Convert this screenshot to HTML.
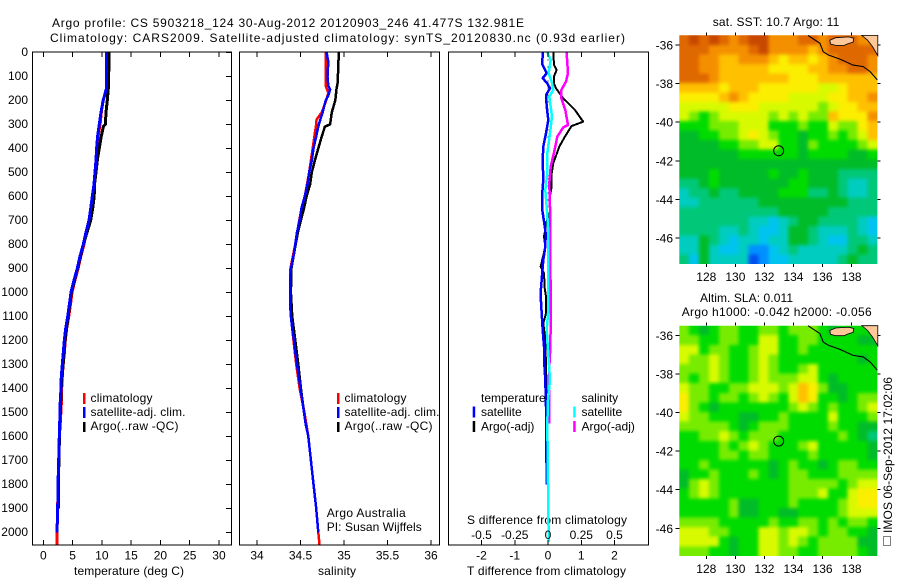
<!DOCTYPE html>
<html>
<head>
<meta charset="utf-8">
<title>Argo profile</title>
<style>
html,body{margin:0;padding:0;background:#fff;}
svg{display:block;}
text{font-family:"Liberation Sans",sans-serif;font-size:12px;fill:#000;}
</style>
</head>
<body>
<svg id="fig" width="900" height="580" viewBox="0 0 900 580" xmlns="http://www.w3.org/2000/svg">
<defs>
<filter id="map-smooth" filterUnits="userSpaceOnUse" x="640" y="0" width="260" height="580" color-interpolation-filters="sRGB">
<feGaussianBlur stdDeviation="1.8"/>
</filter>
<clipPath id="clip-sst-map"><rect x="679.3" y="35.3" width="198.1" height="228.7"/></clipPath>
<clipPath id="clip-sla-map"><rect x="679.3" y="325.7" width="198.1" height="230.3"/></clipPath>
</defs>
<rect x="0" y="0" width="900" height="580" fill="#fff"/>
<text x="52" y="27" font-size="13" textLength="472">Argo profile: CS 5903218_124 30-Aug-2012 20120903_246 41.477S 132.981E</text>
<text x="50" y="42" font-size="13" textLength="575">Climatology: CARS2009. Satellite-adjusted climatology: synTS_20120830.nc (0.93d earlier)</text>

<text x="74" y="575" textLength="110">temperature (deg C)</text>
<text x="318" y="575" textLength="38">salinity</text>
<text x="467" y="575" textLength="159">T difference from climatology</text>
<text x="467" y="524" textLength="160">S difference from climatology</text>

<g>
<rect x="83" y="393" width="2.5" height="11" fill="#f00"/>
<rect x="83" y="407" width="2.5" height="11" fill="#00f"/>
<rect x="83" y="422" width="2.5" height="10" fill="#000"/>
<text x="90.5" y="402" textLength="62">climatology</text>
<text x="90.5" y="416" textLength="95">satellite-adj. clim.</text>
<text x="90.5" y="430" textLength="88">Argo(..raw -QC)</text>
</g>
<g>
<rect x="337" y="393" width="2.5" height="11" fill="#f00"/>
<rect x="337" y="407" width="2.5" height="11" fill="#00f"/>
<rect x="337" y="422" width="2.5" height="10" fill="#000"/>
<text x="344.5" y="402" textLength="62">climatology</text>
<text x="344.5" y="416" textLength="95">satellite-adj. clim.</text>
<text x="344.5" y="430" textLength="88">Argo(..raw -QC)</text>
</g>
<text x="326.7" y="517" textLength="79">Argo Australia</text>
<text x="326.7" y="531" textLength="95">PI: Susan Wijffels</text>

<text x="712.7" y="26" textLength="126.6">sat. SST: 10.7  Argo: 11</text>
<text x="700" y="302" textLength="93">Altim. SLA: 0.011</text>
<text x="681.7" y="316" textLength="190">Argo h1000: -0.042 h2000: -0.056</text>
<text transform="translate(892,533) rotate(-90)" x="0" y="0" textLength="156">IMOS 06-Sep-2012 17:02:06</text>
<rect x="883.5" y="536.5" width="7" height="9" fill="none" stroke="#000" stroke-width="1" stroke-dasharray="1 1"/>

<g id="layer-plots"></g>
<g id="layer-maps"></g>
</svg>

<script>
/* ---------- Profile data ---------- */
const depthTicks = [0,100,200,300,400,500,600,700,800,900,1000,1100,1200,1300,1400,1500,1600,1700,1800,1900,2000];
const tempTicks = [0,5,10,15,20,25,30];
const salTicks = [34,34.5,35,35.5,36];
const diffTTicks = [-2,-1,0,1,2];
const diffSTicks = [-0.5,-0.25,0,0.25,0.5];

const tempClimDepth = [0,100,150,170,200,250,300,350,400,450,500,550,600,650,700,750,800,850,900,950,1000,1050,1100,1150,1200,1250,1300,1350,1400,1450,1500,1600,1700,1800,1900,2000,2055];
const tempClimValue = [10.8,10.8,10.8,10.6,10.2,9.9,9.7,9.35,9.2,9.05,8.9,8.7,8.5,8.15,7.85,7.35,6.95,6.4,5.95,5.4,4.9,4.65,4.35,4.0,3.75,3.6,3.4,3.25,3.15,3.1,3.0,2.75,2.65,2.55,2.45,2.35,2.35];
const tempSatDepth = [0,100,150,170,200,250,300,350,400,450,500,550,600,650,700,750,800,850,900,950,1000,1050,1100,1150,1200,1250,1300,1350,1400,1450,1500,1600,1700,1800,1900,2000];
const tempSatValue = [10.82,10.82,10.8,10.55,10.25,9.85,9.57,9.28,9.1,9.0,8.83,8.66,8.37,8.09,7.8,7.29,6.83,6.27,5.8,5.24,4.73,4.45,4.16,3.82,3.59,3.42,3.25,3.08,3.02,2.9,2.85,2.73,2.63,2.51,2.46,2.34];
const tempArgoDepth = [0,100,150,200,250,300,310,350,400,450,500,550,600,650,700,800,900,1000,1200,1400,1540,1700,1900];
const tempArgoValue = [11.22,11.17,11.1,10.93,10.7,10.6,10.25,9.9,9.56,9.22,9.0,8.75,8.7,8.43,8.1,6.85,5.85,4.8,3.7,3.05,2.85,2.65,2.6];

const salClimDepth = [0,140,150,170,200,250,280,300,350,400,450,500,600,700,800,900,1000,1100,1200,1300,1400,1500,1600,1700,1800,1900,2000,2055];
const salClimValue = [34.79,34.79,34.8,34.82,34.795,34.745,34.685,34.68,34.66,34.64,34.62,34.6,34.55,34.485,34.44,34.385,34.38,34.39,34.42,34.45,34.49,34.545,34.59,34.62,34.65,34.68,34.705,34.72];
const salSatDepth = [0,40,100,140,155,180,200,250,300,350,400,450,500,550,600,650,700,750,800,850,900,950,1000,1050,1100,1150,1200,1250,1300,1350,1400,1450,1500,1550,1600,1700,1800,1900,2000];
const salSatValue = [34.8,34.82,34.81,34.82,34.84,34.82,34.79,34.755,34.71,34.68,34.65,34.63,34.6,34.58,34.55,34.51,34.49,34.46,34.44,34.42,34.39,34.38,34.38,34.38,34.39,34.405,34.425,34.44,34.46,34.48,34.5,34.52,34.54,34.56,34.59,34.62,34.65,34.68,34.705];
const salArgoDepth = [0,100,130,150,200,250,300,310,350,400,450,500,550,600,650,700,750,800,900,1000,1100,1200,1300,1400,1500];
const salArgoValue = [34.94,34.93,34.925,34.915,34.9,34.86,34.84,34.78,34.745,34.705,34.665,34.63,34.61,34.57,34.54,34.505,34.47,34.445,34.395,34.39,34.405,34.44,34.475,34.505,34.54];

const diffTSatDepth = [0,50,87,108,130,150,178,226,282,337,393,449,532,600,657,705,754,810,865,983,1018,1088,1157,1226,1296,1365,1476,1800];
const diffTSatValue = [-0.16,-0.17,-0.04,-0.16,-0.02,0.06,-0.06,-0.04,0.01,-0.06,-0.14,-0.16,-0.14,-0.18,-0.17,-0.12,-0.07,-0.08,-0.14,-0.21,-0.22,-0.19,-0.16,-0.12,-0.11,-0.08,-0.06,-0.04];
const diffTArgoDepth = [0,53,74,100,130,150,192,240,289,307,351,393,462,504,560,615,657,705,768,810,893,921,983,1018,1088,1129,1185,1296,1421];
const diffTArgoValue = [0.16,0.18,0.26,0.18,0.18,0.24,0.46,0.81,1.06,0.71,0.51,0.34,0.16,0.11,0.11,0.04,0.08,-0.04,-0.12,-0.08,-0.22,-0.12,-0.1,-0.06,-0.06,-0.14,-0.09,-0.06,-0.04];
const diffSSatDepth = [0,32,87,128,157,185,268,337,421,504,574,643,727,865,983,1088,1157,1365,1449,1546,2040];
const diffSSatValue = [-0.005,0.02,0.005,0.03,0.04,0.01,0.03,0.015,-0.005,-0.005,-0.02,-0.01,0.0,0.0,0.0,0.0,-0.01,0.015,0.0,-0.005,0.005];
const diffSArgoDepth = [0,87,122,157,192,240,303,313,351,407,476,546,643,765,852,983,1018,1088,1226,1310,1546];
const diffSArgoValue = [0.14,0.15,0.135,0.1,0.1,0.13,0.15,0.115,0.07,0.05,0.02,0.01,0.015,0.015,0.015,0.02,0.02,0.02,0.018,0.01,0.008];

/* ---------- Map data: colour levels 0 (cold / low) to 13 (warm / high) ---------- */
const sstLevels = [
[12,13,12,13,12,11,12,13,13,11,11,11,12,12,11,12,12,12,11,11],
[12,12,12,11,11,11,11,12,13,11,11,11,11,10,11,12,12,12,12,12],
[12,12,11,11,10,10,11,11,11,10,9,10,10,9,10,11,12,12,12,11],
[12,12,11,11,10,10,10,10,10,9,9,9,9,10,10,11,11,12,12,11],
[12,12,12,11,10,10,10,10,10,10,10,9,9,9,10,10,10,10,10,10],
[10,10,10,10,9,10,10,10,9,9,9,9,9,9,8,8,9,10,10,10],
[9,9,9,9,10,11,10,9,9,9,9,8,8,8,8,9,9,10,10,11],
[8,8,8,8,8,9,9,9,8,8,8,8,8,8,7,8,9,9,10,10],
[8,7,6,7,8,8,8,8,8,7,8,7,8,7,7,10,9,9,9,11],
[6,6,6,7,7,7,8,8,8,6,6,6,7,6,6,8,7,7,9,10],
[5,5,6,6,7,7,8,9,8,7,6,6,5,6,6,7,6,7,8,10],
[5,5,5,5,6,6,7,7,8,8,6,6,5,7,6,6,6,6,7,8],
[5,5,5,5,5,5,6,6,6,6,6,6,5,6,6,6,6,5,5,6],
[5,5,5,5,5,5,5,5,5,5,5,5,5,5,5,5,5,5,5,5],
[5,5,5,6,5,5,5,5,5,6,5,5,6,5,5,5,4,4,4,4],
[4,4,5,6,5,5,5,5,5,5,5,6,6,5,5,5,4,3,3,4],
[3,4,4,5,4,4,5,5,5,5,6,6,6,4,4,5,4,3,3,4],
[3,3,4,4,4,4,4,4,5,5,5,5,5,5,5,5,5,4,4,4],
[4,4,4,4,4,4,4,4,4,4,5,5,5,5,5,4,4,4,4,4],
[4,4,4,4,4,4,4,3,3,2,3,4,5,5,4,4,4,4,3,2],
[4,4,4,4,3,3,4,3,2,2,3,5,5,4,3,3,3,4,3,2],
[3,3,5,4,3,2,3,3,2,3,3,5,5,4,3,2,2,4,4,3],
[3,3,5,3,2,2,3,1,1,2,3,4,3,3,3,3,3,4,5,4],
[4,2,5,3,3,3,3,0,1,2,2,3,3,3,3,3,4,5,4,4]
];
const slaLevels = [
[7,6,5,6,7,7,6,6,7,7,6,7,7,7,6,5,6,6,6,6],
[7,7,6,6,7,7,6,6,8,8,6,6,7,7,6,6,6,6,5,5],
[8,8,6,7,7,6,6,7,8,8,6,6,7,6,6,6,6,6,6,6],
[8,7,7,8,7,6,6,7,8,7,6,6,6,6,6,6,6,6,5,6],
[7,7,7,8,7,6,6,7,8,7,6,6,7,8,6,6,6,6,6,6],
[7,6,7,8,7,6,6,7,8,7,7,7,8,8,6,5,6,6,6,6],
[8,7,7,6,6,7,7,8,8,8,7,8,10,9,7,5,5,6,6,6],
[9,7,7,6,7,7,6,7,8,7,6,8,10,9,6,6,5,6,7,7],
[9,7,6,5,6,6,6,6,6,6,6,7,8,7,6,7,6,6,7,8],
[8,7,7,6,6,6,5,5,6,6,7,6,6,6,6,8,6,6,6,7],
[7,7,7,7,7,6,5,6,7,7,7,6,6,6,6,7,6,6,5,5],
[6,6,7,7,8,7,6,7,7,7,6,6,6,6,6,6,7,6,5,4],
[6,6,6,6,7,6,7,8,7,6,6,6,7,8,6,6,6,6,6,5],
[6,6,6,6,7,7,6,7,7,6,6,6,6,7,6,6,6,6,6,5],
[6,6,7,6,6,6,6,6,6,5,6,7,6,6,5,6,7,7,6,6],
[5,6,6,7,6,6,6,7,6,5,6,7,7,6,6,6,7,7,7,7],
[5,7,8,7,6,6,6,6,6,6,6,7,7,7,7,7,6,7,8,8],
[6,7,8,7,6,6,6,6,6,6,6,7,7,7,8,6,6,8,9,9],
[6,6,6,6,6,7,5,5,6,6,6,7,6,6,6,6,7,8,9,9],
[6,6,6,6,6,7,5,5,6,6,5,5,6,6,6,6,7,8,8,8],
[7,7,7,7,6,6,6,6,6,7,6,6,7,7,6,7,6,7,7,6],
[8,8,8,7,7,6,6,6,8,8,7,8,8,7,6,7,7,6,6,5],
[8,8,8,8,6,5,6,6,8,8,7,8,7,6,7,7,7,7,5,5],
[7,7,7,6,6,5,6,6,8,8,7,7,6,6,7,7,7,7,6,5]
];
const lonTicks = [128,130,132,134,136,138];
const latTicks = [-36,-38,-40,-42,-44,-46];
const coastLon = [135.0,135.82,136.05,136.4,137.2,138.1,138.8,139.27,139.77];
const coastLat = [-35.5,-35.91,-36.35,-36.52,-36.73,-37.04,-37.12,-37.38,-37.81];
const islandLon = [136.5,136.9,137.3,137.8,138.15,138.1,137.7,137.5,136.9,136.55];
const islandLat = [-35.75,-35.62,-35.6,-35.58,-35.65,-35.85,-35.95,-36.02,-36.02,-35.95];
const mainlandLon = [138.7,139.8,139.8,139.45,139.1];
const mainlandLat = [-35.5,-35.5,-36.55,-36.1,-35.75];
const profileLon = 132.98;
const profileLat = -41.48;

/* ---------- Helpers ---------- */
const NS = 'http://www.w3.org/2000/svg';
const plots = document.getElementById('layer-plots');
const maps = document.getElementById('layer-maps');
function mk(tag, parent, attrs) {
  const el = document.createElementNS(NS, tag);
  for (const k in attrs) el.setAttribute(k, attrs[k]);
  parent.appendChild(el);
  return el;
}
const yDepth = d => 52.3 + d * 0.24;
const xTemp = v => 43.3 + v * 5.856;
const xSal = v => 257 + (v - 34) * 87;
const xDiffT = v => 548 + v * 33.25;
const xDiffS = v => 548 + v * 133;

function tickLabel(parent, x, y, str, anchor) {
  const t = mk('text', parent, {x: x, y: y, 'text-anchor': anchor});
  
  
  t.textContent = str;
  return t;
}
function tickLine(parent, x1, y1, x2, y2) {
  const l = mk('line', parent, {x1: x1, y1: y1, x2: x2, y2: y2, stroke: '#000', 'stroke-width': 1, 'shape-rendering': 'crispEdges'});
  
  
}
function frame(parent, x, y, w, h) {
  const r = mk('rect', parent, {x: x, y: y, width: w, height: h, fill: 'none', stroke: '#000', 'stroke-width': 1, 'shape-rendering': 'crispEdges'});
  
  
}
function series(parent, depths, vals, xf, color, width, name) {
  const pts = depths.map((d, i) => xf(vals[i]).toFixed(1) + ',' + yDepth(d).toFixed(1)).join(' ');
  const p = mk('polyline', parent, {points: pts, fill: 'none', stroke: color, 'stroke-width': width, 'stroke-linejoin': 'round', 'shape-rendering': 'crispEdges'});
  
  
}

const P_TOP = 52, P_BOT = 545;

/* ---------- Temperature panel ---------- */
const gT = mk('g', plots, {});


series(gT, tempClimDepth, tempClimValue, xTemp, '#f00', 3, 'temperature-climatology-line');
series(gT, tempArgoDepth, tempArgoValue, xTemp, '#000', 3, 'temperature-argo-line');
series(gT, tempSatDepth, tempSatValue, xTemp, '#00f', 3, 'temperature-satellite-line');
frame(gT, 32.5, P_TOP, 199, P_BOT - P_TOP);
depthTicks.forEach(d => {
  tickLine(gT, 226, yDepth(d), 231.5, yDepth(d));
  tickLabel(gT, 28, yDepth(d) + 3.6, String(d), 'end');
});
tempTicks.forEach(v => {
  tickLine(gT, xTemp(v), P_TOP, xTemp(v), P_TOP + 5);
  tickLine(gT, xTemp(v), P_BOT - 5, xTemp(v), P_BOT);
  tickLabel(gT, xTemp(v), 559.5, String(v), 'middle');
});

/* ---------- Salinity panel ---------- */
const gS = mk('g', plots, {});


series(gS, salClimDepth, salClimValue, xSal, '#f00', 2.5, 'salinity-climatology-line');
series(gS, salArgoDepth, salArgoValue, xSal, '#000', 2.5, 'salinity-argo-line');
series(gS, salSatDepth, salSatValue, xSal, '#00f', 2.5, 'salinity-satellite-line');
frame(gS, 239.5, P_TOP, 200, P_BOT - P_TOP);
salTicks.forEach(v => {
  tickLine(gS, xSal(v), P_TOP, xSal(v), P_TOP + 5);
  tickLine(gS, xSal(v), P_BOT - 5, xSal(v), P_BOT);
  tickLabel(gS, xSal(v), 559.5, String(v), 'middle');
});

/* ---------- Difference panel ---------- */
const gD = mk('g', plots, {});


const zeroLine = mk('line', gD, {x1: xDiffT(0), y1: yDepth(0), x2: xDiffT(0), y2: yDepth(1000), stroke: '#000', 'stroke-width': 1, 'stroke-dasharray': '1 6', 'shape-rendering': 'crispEdges'});


series(gD, diffTArgoDepth, diffTArgoValue, xDiffT, '#000', 2, 'temperature-argo-diff-line');
series(gD, diffTSatDepth, diffTSatValue, xDiffT, '#00f', 2.5, 'temperature-satellite-diff-line');
series(gD, diffSArgoDepth, diffSArgoValue, xDiffS, '#f0f', 2.5, 'salinity-argo-diff-line');
series(gD, diffSSatDepth, diffSSatValue, xDiffS, '#0ff', 2.5, 'salinity-satellite-diff-line');
frame(gD, 448.5, P_TOP, 200, P_BOT - P_TOP);
diffTTicks.forEach(v => {
  tickLine(gD, xDiffT(v), P_TOP, xDiffT(v), P_TOP + 5);
  tickLine(gD, xDiffT(v), P_BOT - 5, xDiffT(v), P_BOT);
  tickLabel(gD, xDiffT(v), 559.5, String(v), 'middle');
});
diffSTicks.forEach(v => {
  tickLabel(gD, xDiffS(v), 539, String(v), 'middle');
});

const legendItems = [
  ['temperature', 481, 402, null],
  ['satellite', 481, 416, '#00f'],
  ['Argo(-adj)', 481, 430.5, '#000'],
  ['salinity', 581.5, 402, null],
  ['satellite', 581.5, 416, '#0ff'],
  ['Argo(-adj)', 581.5, 430.5, '#f0f']
];
legendItems.forEach(it => {
  const t = mk('text', gD, {x: it[1], y: it[2]});
  
  
  t.textContent = it[0];
  if (it[3]) {
    const r = mk('rect', gD, {x: it[1] - 8.3, y: it[2] - 9.5, width: 2.5, height: 11, fill: it[3]});
    
    
  }
});

/* ---------- Maps ---------- */
const MAP_L = 679.3, MAP_R = 877.4;
const LON_L = 126.14, LON_R = 139.78, LAT_T = -35.5;
const CELL_PAD = 14;
const xLon = lon => 706.3 + (lon - 128) * 14.53;
const colors = ['#0050f0','#0090ff','#00c4f0','#00ccc0','#00c878','#00bc28','#00dc00','#78ec00','#d8fa00','#fcee00','#ffc000','#f49000','#e06800','#c84800'];

function drawMap(name, levels, y36, latBottom, clipId) {
  const yLat = lat => y36 + (-36 - lat) * 19.3;
  const g = mk('g', maps, {});
  
  
  const clip = mk('g', g, {'clip-path': 'url(#' + clipId + ')'});
  
  
  const cells = mk('g', clip, {filter: 'url(#map-smooth)'});
  
  
  const nR = levels.length;
  const nC = levels[0].length;
  levels.forEach((row, r) => {
    row.forEach((lv, c) => {
      let x0 = xLon(LON_L + (LON_R - LON_L) * c / nC);
      let x1 = xLon(LON_L + (LON_R - LON_L) * (c + 1) / nC);
      let y0 = yLat(LAT_T + (latBottom - LAT_T) * r / nR);
      let y1 = yLat(LAT_T + (latBottom - LAT_T) * (r + 1) / nR);
      if (c === 0) x0 -= CELL_PAD;
      if (c === nC - 1) x1 += CELL_PAD;
      if (r === 0) y0 -= CELL_PAD;
      if (r === nR - 1) y1 += CELL_PAD;
      const cell = mk('rect', cells, {x: x0.toFixed(2), y: y0.toFixed(2), width: (x1 - x0 + 0.6).toFixed(2), height: (y1 - y0 + 0.6).toFixed(2), fill: colors[Math.max(0, Math.min(13, Math.round(lv)))], 'shape-rendering': 'crispEdges'});
      
      
    });
  });
  const ptsOf = (lons, lats) => lons.map((lo, i) => xLon(lo).toFixed(1) + ',' + yLat(lats[i]).toFixed(1)).join(' ');
  const island = mk('polygon', g, {points: ptsOf(islandLon, islandLat), fill: '#ffc898', stroke: '#000', 'stroke-width': 0.8});
  
  
  const main = mk('polygon', g, {points: ptsOf(mainlandLon, mainlandLat), fill: '#ffc898', stroke: '#000', 'stroke-width': 0.8});
  
  
  const coast = mk('polyline', g, {points: ptsOf(coastLon, coastLat), fill: 'none', stroke: '#000', 'stroke-width': 1.1});
  
  
  const mark = mk('circle', g, {cx: xLon(profileLon), cy: yLat(profileLat), r: 5, fill: 'none', stroke: '#000', 'stroke-width': 1});
  
  
  const top = yLat(LAT_T);
  const bot = yLat(latBottom);
  lonTicks.forEach(lon => {
    tickLine(g, xLon(lon), top - 3, xLon(lon), top);
    tickLine(g, xLon(lon), bot, xLon(lon), bot + 3);
    tickLabel(g, xLon(lon), bot + 17, String(lon), 'middle');
  });
  latTicks.forEach(lat => {
    tickLine(g, MAP_L - 4, yLat(lat), MAP_L, yLat(lat));
    tickLine(g, MAP_R, yLat(lat), MAP_R + 3, yLat(lat));
    tickLabel(g, 673, yLat(lat) + 4.5, String(lat), 'end');
  });
}
drawMap('sst-map', sstLevels, 45, -47.35, 'clip-sst-map');
drawMap('sla-map', slaLevels, 335.3, -47.43, 'clip-sla-map');
</script>
</body>
</html>
